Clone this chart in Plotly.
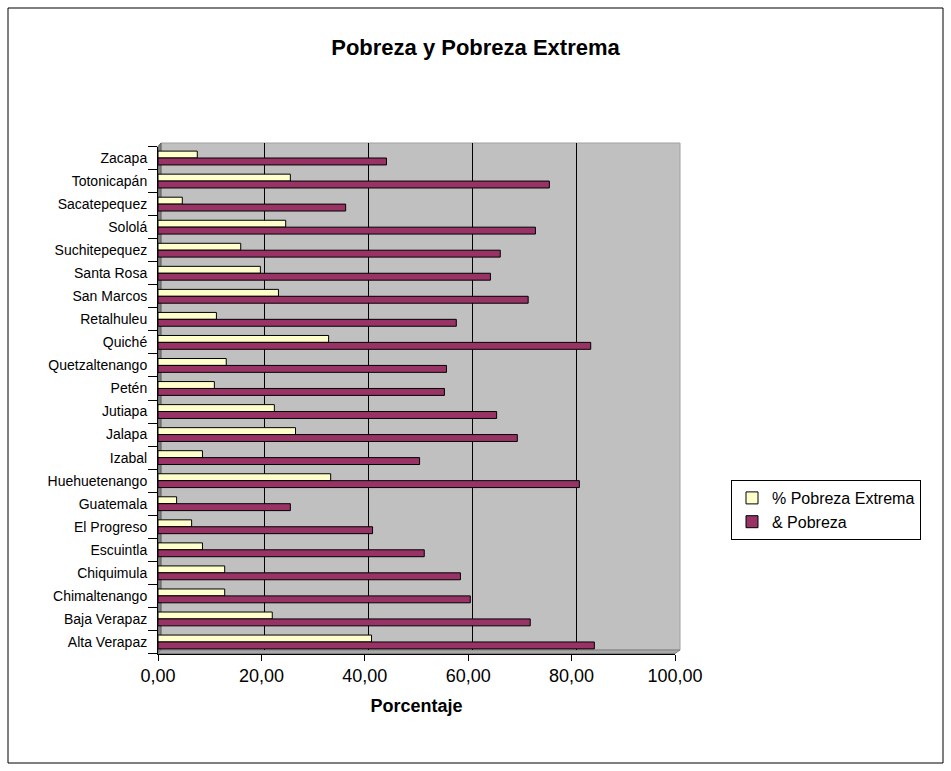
import plotly.graph_objects as go

# Departamentos de Guatemala (de abajo hacia arriba en el eje)
departamentos = [
    "Alta Verapaz", "Baja Verapaz", "Chimaltenango", "Chiquimula", "Escuintla",
    "El Progreso", "Guatemala", "Huehuetenango", "Izabal", "Jalapa", "Jutiapa",
    "Petén", "Quetzaltenango", "Quiché", "Retalhuleu", "San Marcos", "Santa Rosa",
    "Suchitepequez", "Sololá", "Sacatepequez", "Totonicapán", "Zacapa",
]

pobreza_extrema = [
    41.3, 22.1, 12.9, 12.9, 8.6,
    6.5, 3.6, 33.4, 8.6, 26.6, 22.5,
    10.9, 13.2, 33.0, 11.3, 23.3, 19.8,
    16.0, 24.7, 4.7, 25.6, 7.6,
]

pobreza = [
    84.4, 72.0, 60.4, 58.5, 51.5,
    41.5, 25.6, 81.5, 50.6, 69.5, 65.5,
    55.4, 55.8, 83.7, 57.7, 71.6, 64.3,
    66.2, 73.0, 36.3, 75.7, 44.2,
]

x_ticks = [0, 20, 40, 60, 80, 100]

W, H = 951, 771
FONT = "Liberation Sans, Arial, sans-serif"


def px_x(p):
    return p / W


def px_y(p):
    return (H - p) / H


fig = go.Figure()

# empty trace so the back-wall subplot is created
fig.add_trace(go.Scatter(x=[], y=[], xaxis="x", yaxis="y", showlegend=False,
                         hoverinfo="skip"))

fig.add_trace(go.Bar(
    y=departamentos, x=pobreza_extrema, orientation="h",
    name="% Pobreza Extrema", xaxis="x2", yaxis="y2",
    width=0.3, offset=0.0,
    marker=dict(color="#FFFFCC", line=dict(color="#000000", width=1)),
))
fig.add_trace(go.Bar(
    y=departamentos, x=pobreza, orientation="h",
    name="& Pobreza", xaxis="x2", yaxis="y2",
    width=0.3, offset=-0.3,
    marker=dict(color="#993366", line=dict(color="#000000", width=1)),
))

# plot geometry (pixels)
bx0, bx1, by0, by1 = 158, 675, 146.5, 653.5     # bars / front axes
wx0, wx1, wy0, wy1 = 161, 680, 143, 650         # back wall

shapes = [
    # outer chart border
    dict(type="rect", xref="paper", yref="paper",
         x0=px_x(8), x1=px_x(943), y0=px_y(763), y1=px_y(8),
         line=dict(color="#000000", width=1), fillcolor="rgba(0,0,0,0)",
         layer="below"),
    # back wall
    dict(type="rect", xref="x domain", yref="y domain", x0=0, x1=1, y0=0, y1=1,
         fillcolor="#C0C0C0", line=dict(color="#A0A0A0", width=1), layer="below"),
    # left side wall
    dict(type="path", xref="paper", yref="paper",
         path=f"M {px_x(bx0)} {px_y(by1)} L {px_x(bx0)} {px_y(by0)} "
              f"L {px_x(wx0)} {px_y(wy0)} L {px_x(wx0)} {px_y(wy1)} Z",
         fillcolor="#808080", line=dict(color="#606060", width=1), layer="below"),
    # floor
    dict(type="path", xref="paper", yref="paper",
         path=f"M {px_x(bx0)} {px_y(by1)} L {px_x(bx1)} {px_y(by1)} "
              f"L {px_x(wx1)} {px_y(wy1)} L {px_x(wx0)} {px_y(wy1)} Z",
         fillcolor="#A8A8A8", line=dict(color="#808080", width=1), layer="below"),
]

fig.update_layout(
    template="none",
    width=W, height=H,
    autosize=False,
    margin=dict(l=0, r=0, t=0, b=0, pad=0),
    paper_bgcolor="#FFFFFF",
    plot_bgcolor="rgba(0,0,0,0)",
    separators=",.",
    barmode="overlay",
    font=dict(family=FONT, color="#000000", size=14),
    title=dict(text="<b>Pobreza y Pobreza Extrema</b>", x=0.5, xanchor="center",
               xref="paper", y=px_y(47), yanchor="middle", yref="paper",
               automargin=False,
               font=dict(family=FONT, size=22, color="#000000")),
    # back wall axes (gridlines only)
    xaxis=dict(domain=[px_x(wx0), px_x(wx1)], range=[0, 100], anchor="y",
               tickvals=x_ticks, showgrid=True, gridcolor="#000000", gridwidth=1,
               showticklabels=False, ticks="", zeroline=False, showline=False,
               automargin=False, fixedrange=True),
    yaxis=dict(domain=[px_y(wy1), px_y(wy0)], range=[0, 1], anchor="x",
               showgrid=False, showticklabels=False, ticks="", zeroline=False,
               showline=False, automargin=False, fixedrange=True),
    # front axes carrying the bars
    xaxis2=dict(domain=[px_x(bx0), px_x(bx1)], range=[0, 100], anchor="y2",
                tickvals=x_ticks, tickformat=".2f", showgrid=False, zeroline=False,
                showline=True, linecolor="#000000", linewidth=1,
                ticks="outside", ticklen=6, tickcolor="#000000",
                tickfont=dict(family=FONT, size=18),
                title=dict(text="<b>Porcentaje</b>", standoff=14,
                           font=dict(family=FONT, size=18)),
                automargin=False, fixedrange=True),
    yaxis2=dict(domain=[px_y(by1), px_y(by0)], anchor="x2",
                type="category", categoryorder="array", categoryarray=departamentos,
                range=[-0.5, len(departamentos) - 0.5],
                showgrid=False, zeroline=False, showline=True,
                linecolor="#000000", linewidth=1,
                ticks="outside", tickson="boundaries", ticklen=9,
                ticklabelstandoff=7,
                tickcolor="#000000", tickfont=dict(family=FONT, size=14),
                automargin=False, fixedrange=True),
    legend=dict(x=px_x(731), y=px_y(480), xanchor="left", yanchor="top",
                bgcolor="#FFFFFF", bordercolor="#000000", borderwidth=1,
                font=dict(family=FONT, size=16), traceorder="normal",
                tracegroupgap=0),
    shapes=shapes,
    showlegend=True,
)

fig.write_html("out.html")
